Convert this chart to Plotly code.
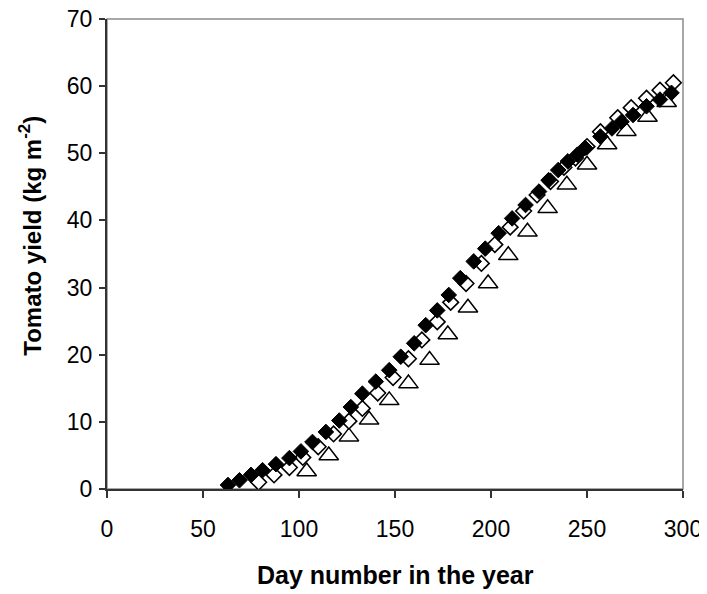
import plotly.graph_objects as go

# Filled diamonds
filled_day = [63, 69, 75, 81, 88, 95, 101, 107, 114, 121, 127, 133, 140, 147, 153, 160,
              166, 172, 178, 184, 191, 197, 204, 211, 218, 225, 230, 235, 240, 245, 249,
              257, 263, 268, 274, 281, 288, 294]
filled_val = [0.6, 1.3, 2.1, 2.8, 3.7, 4.6, 5.6, 7.0, 8.5, 10.2, 12.2, 14.2, 16.0, 17.7, 19.7, 21.7,
              24.4, 26.6, 28.9, 31.4, 33.9, 35.8, 38.1, 40.3, 42.3, 44.3, 46.0, 47.5, 48.8, 49.8, 50.8,
              52.5, 53.7, 54.7, 55.7, 57.0, 58.0, 59.0]

# Open diamonds
open_day = [79, 87, 95, 102, 110, 118, 126, 133, 141, 149, 157, 164, 172, 179, 187, 195,
            202, 210, 217, 224, 231, 238, 244, 250, 257, 266, 273, 281, 288, 295]
open_val = [1.0, 2.1, 3.2, 4.7, 6.3, 8.2, 10.1, 12.0, 14.3, 16.6, 19.4, 22.2, 24.9, 27.8, 30.6, 33.6,
            36.4, 39.0, 41.4, 43.8, 45.8, 47.9, 49.3, 51.0, 53.2, 55.3, 56.8, 58.2, 59.4, 60.5]

# Open triangles
tri_day = [104, 115.5, 126, 136.5, 147, 157, 168, 177.5, 188, 198.5, 209, 219, 229.5, 239.5,
           250, 260.5, 270.5, 281.5, 291.5]
tri_val = [2.6, 5.0, 7.8, 10.3, 13.2, 15.7, 19.2, 23.0, 27.0, 30.6, 34.8, 38.3, 41.8, 45.3,
           48.3, 51.3, 53.3, 55.4, 57.6]

x_ticks = [0, 50, 100, 150, 200, 250, 300]
y_ticks = [0, 10, 20, 30, 40, 50, 60, 70]

FONT = "Arial, 'Liberation Sans', sans-serif"

fig = go.Figure()
fig.add_trace(go.Scatter(
    x=tri_day, y=tri_val, mode="markers",
    marker=dict(symbol="triangle-up", size=17, color="white",
                line=dict(color="black", width=1.5)),
    showlegend=False, hoverinfo="skip"))
fig.add_trace(go.Scatter(
    x=open_day, y=open_val, mode="markers",
    marker=dict(symbol="diamond", size=12, color="white",
                line=dict(color="black", width=1.6)),
    showlegend=False, hoverinfo="skip"))
fig.add_trace(go.Scatter(
    x=filled_day, y=filled_val, mode="markers",
    marker=dict(symbol="diamond", size=12, color="black",
                line=dict(color="black", width=1)),
    showlegend=False, hoverinfo="skip"))

# The page body has an 8px margin, so the figure is sized to fill the rest of the window.
fig.update_layout(
    width=699, height=586,
    margin=dict(l=98.5, r=24, t=11, b=105, pad=0, autoexpand=False),
    paper_bgcolor="white", plot_bgcolor="white",
    font=dict(family=FONT, size=22, color="black"),
    xaxis=dict(range=[0, 300], tickvals=x_ticks, ticktext=[str(v) for v in x_ticks],
               automargin=False, ticklabeloverflow="allow",
               showgrid=False, zeroline=False, showline=True, linecolor="#333333",
               linewidth=2, ticks="outside", ticklen=7, tickwidth=1.5, tickcolor="#333333",
               ticklabelstandoff=11, tickfont=dict(size=23)),
    yaxis=dict(range=[0, 70], tickvals=y_ticks, ticktext=[str(v) for v in y_ticks],
               automargin=False, ticklabeloverflow="allow",
               showgrid=False, zeroline=False, showline=True, linecolor="#333333",
               linewidth=2, ticks="outside", ticklen=6, tickwidth=1.5, tickcolor="#333333",
               ticklabelstandoff=2, tickfont=dict(size=23)),
    shapes=[dict(type="rect", xref="paper", yref="paper", x0=0, x1=1, y0=0, y1=1,
                 line=dict(color="#8c8c8c", width=1.5), layer="below")],
    annotations=[
        dict(text="<b>Day number in the year</b>", xref="paper", yref="paper",
             x=0.5, y=-0.183, xanchor="center", yanchor="middle", showarrow=False,
             font=dict(size=25, family=FONT)),
        dict(text="<b>Tomato yield (kg m<sup>-2</sup>)</b>", xref="paper", yref="paper",
             x=-0.1327, y=0.538, xanchor="center", yanchor="middle", textangle=-90,
             showarrow=False, font=dict(size=24, family=FONT)),
    ],
)

fig.write_html("out.html")
